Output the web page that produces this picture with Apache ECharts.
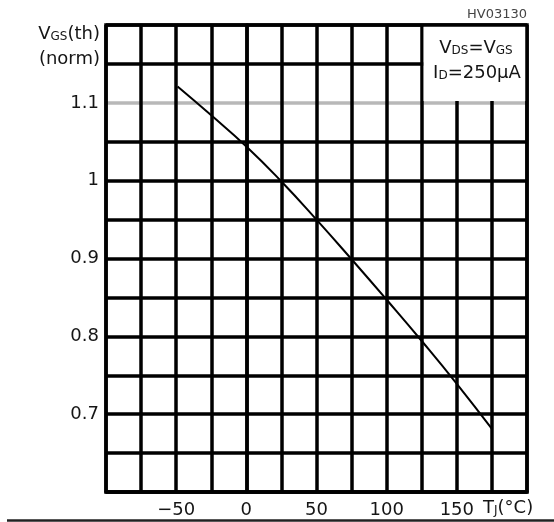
<!DOCTYPE html>
<html>
<head>
<meta charset="utf-8">
<script src="https://cdn.jsdelivr.net/npm/echarts@6/dist/echarts.min.js"></script>
<style>html,body{margin:0;padding:0;background:#fff;}#c{width:554px;height:522px;}</style>
</head>
<body>
<div id="c"></div>
<script>
// Junction temperature (°C) and normalized gate threshold voltage
const tempC   = [-49, -25, 0, 25, 50, 75, 100, 125, 150, 175];
const vgsNorm = [1.121, 1.084, 1.044, 0.999, 0.950, 0.899, 0.847, 0.794, 0.739, 0.681];
const xTickLabels = [-50, 0, 50, 100, 150];
const yTickLabels = [0.7, 0.8, 0.9, 1, 1.1];
const xMin = -100, xMax = 200, xStep = 25;
const yMin = 0.6, yMax = 1.2, yStep = 0.05;
const grayLineValue = 1.1;
const noteBoxX = [125, 200];
const noteBoxY = [1.1, 1.2];

const FONT = 'DejaVu Sans';
const TXT = '#151515';

const nY = Math.round((yMax - yMin) / yStep) + 1;
const ySplitColors = [];
for (let i = 0; i < nY; i++) {
  const v = Math.round((yMin + i * yStep) * 100) / 100;
  ySplitColors.push(v === grayLineValue ? '#b8b8b8' : '#000');
}

const chart = echarts.init(document.getElementById('c'), null, {renderer: 'canvas'});
chart.setOption({
  animation: false,
  backgroundColor: '#fff',
  grid: {left: 106, right: 27, top: 25, bottom: 30, show: true, borderColor: '#000', borderWidth: 3.5, z: 5, backgroundColor: 'transparent'},
  xAxis: {
    type: 'value', min: xMin, max: xMax, interval: xStep,
    axisLine: {show: true, lineStyle: {color: '#000', width: 3.5}},
    axisTick: {show: false},
    splitLine: {show: true, lineStyle: {color: '#000', width: 3.5}},
    axisLabel: {
      margin: 9, color: TXT, fontFamily: FONT, fontSize: 18,
      formatter: v => xTickLabels.includes(v) ? (v < 0 ? '\u2212' + Math.abs(v) : String(v)) : ''
    }
  },
  yAxis: {
    type: 'value', min: yMin, max: yMax, interval: yStep,
    axisLine: {show: true, lineStyle: {color: '#000', width: 3.5}},
    axisTick: {show: false},
    splitLine: {show: true, lineStyle: {color: ySplitColors, width: 3.5}},
    axisLabel: {
      margin: 7, color: TXT, fontFamily: FONT, fontSize: 18,
      formatter: v => { const r = Math.round(v * 100) / 100; return yTickLabels.includes(r) ? String(r) : ''; }
    }
  },
  series: [{
    type: 'line',
    data: tempC.map((t, i) => [t, vgsNorm[i]]),
    smooth: true,
    symbol: 'none',
    lineStyle: {color: '#000', width: 2},
    markArea: {
      silent: true,
      label: {show: false},
      itemStyle: {color: '#fff', borderWidth: 0},
      data: [[{xAxis: noteBoxX[0] + 1.3, yAxis: noteBoxY[0] + 0.0024}, {xAxis: noteBoxX[1], yAxis: noteBoxY[1]}]]
    }
  }],
  graphic: [
    {type: 'text', x: 100, y: 34, z: 10, style: {
      text: '{b|V}{s|GS}{b|(th)}', align: 'right', verticalAlign: 'middle', fill: TXT,
      rich: {b: {fontSize: 18, fontFamily: FONT, fill: TXT, verticalAlign: 'bottom'}, s: {fontSize: 12, fontFamily: FONT, fill: TXT, verticalAlign: 'bottom'}}
    }},
    {type: 'text', x: 100, y: 59, z: 10, style: {
      text: '(norm)', align: 'right', verticalAlign: 'middle', fill: TXT, font: '18px "' + FONT + '"'
    }},
    {type: 'text', x: 476, y: 48, z: 10, style: {
      text: '{b|V}{s|DS}{b|=V}{s|GS}', align: 'center', verticalAlign: 'middle', fill: TXT,
      rich: {b: {fontSize: 18, fontFamily: FONT, fill: TXT, verticalAlign: 'bottom'}, s: {fontSize: 12, fontFamily: FONT, fill: TXT, verticalAlign: 'bottom'}}
    }},
    {type: 'text', x: 477, y: 73, z: 10, style: {
      text: '{b|I}{s|D}{b|=250µA}', align: 'center', verticalAlign: 'middle', fill: TXT,
      rich: {b: {fontSize: 18, fontFamily: FONT, fill: TXT, verticalAlign: 'bottom'}, s: {fontSize: 12, fontFamily: FONT, fill: TXT, verticalAlign: 'bottom'}}
    }},
    {type: 'text', x: 497, y: 15, z: 10, style: {
      text: 'HV03130', align: 'center', verticalAlign: 'middle', fill: '#444', font: '13px "' + FONT + '"'
    }},
    {type: 'text', x: 483, y: 508, z: 10, style: {
      text: '{b|T}{s|J}{b|(°C)}', align: 'left', verticalAlign: 'middle', fill: TXT,
      rich: {b: {fontSize: 18, fontFamily: FONT, fill: TXT, verticalAlign: 'bottom'}, s: {fontSize: 12, fontFamily: FONT, fill: TXT, verticalAlign: 'bottom'}}
    }},
    {type: 'line', z: 10, shape: {x1: 7, y1: 520.5, x2: 554, y2: 520.5}, style: {stroke: '#222', lineWidth: 2.5}}
  ]
});
</script>
</body>
</html>
